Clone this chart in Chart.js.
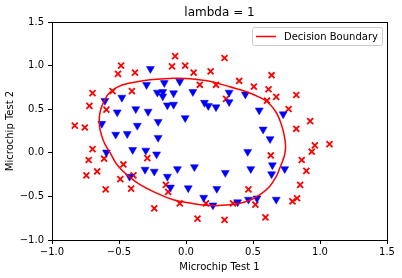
<!DOCTYPE html>
<html><head><meta charset="utf-8">
<script src="https://cdn.jsdelivr.net/npm/chart.js@4.4.0/dist/chart.umd.min.js"></script>
<style>html,body{margin:0;padding:0;background:#fff}#wrap{width:402px;height:278px;position:relative}</style>
</head><body><div id="wrap"><canvas id="c" width="402" height="278"></canvas></div>
<script>
// Accepted (y = 1) – blue triangles
const acceptedX = [0.051267,-0.092742,-0.21371,-0.375,-0.51325,-0.52477,-0.39804,-0.30588,0.016705,0.13191,0.38537,0.52938,0.63882,0.73675,0.54666,0.322,0.16647,-0.046659,-0.17339,-0.47869,-0.60541,-0.62846,-0.59389,-0.42108,-0.11578,0.20104,0.46601,0.67339,-0.13882,-0.29435,-0.26555,-0.16187,-0.17339,-0.28283,-0.36348,-0.30012,-0.23675,-0.06394,0.062788,0.22984,0.2932,0.48329,0.64459,0.46025,0.6273,0.57546,0.72523,0.22408,0.44297,0.322,0.13767,-0.0063364,-0.092742,-0.20795,-0.20795,-0.43836,-0.21947,-0.13882];
const acceptedY = [0.69956,0.68494,0.69225,0.50219,0.46564,0.2098,0.034357,-0.19225,-0.40424,-0.51389,-0.56506,-0.5212,-0.24342,-0.18494,0.48757,0.5826,0.53874,0.81652,0.69956,0.63377,0.59722,0.33406,0.005117,-0.27266,-0.39693,-0.60161,-0.53582,-0.53582,0.54605,0.77997,0.96272,0.8019,0.64839,0.47295,0.31213,0.027047,-0.21418,-0.18494,-0.16301,-0.41155,-0.2288,-0.18494,-0.14108,0.012427,0.15863,0.26827,0.44371,0.52412,0.67032,0.69225,0.57529,0.39985,0.55336,0.35599,0.17325,0.21711,-0.016813,-0.27266];
// Rejected (y = 0) – red crosses
const rejectedX = [0.18376,0.22408,0.29896,0.50634,0.61578,0.60426,0.76555,0.92684,0.82316,0.96141,0.93836,0.86348,0.89804,0.85196,0.82892,0.79435,0.59274,0.51786,0.46601,0.35081,0.28744,0.085829,0.14919,-0.13306,-0.40956,-0.39228,-0.74366,-0.69758,-0.75518,-0.69758,-0.4038,-0.38076,-0.50749,-0.54781,0.10311,0.057028,-0.10426,-0.081221,0.28744,0.39689,0.63882,0.82316,0.67339,1.0709,-0.046659,-0.23675,-0.15035,-0.49021,-0.46717,-0.28859,-0.61118,-0.66302,-0.59965,-0.72638,-0.83007,-0.72062,-0.59389,-0.48445,-0.0063364,0.63265];
const rejectedY = [0.93348,0.77997,0.61915,0.75804,0.7288,0.59722,0.50219,0.3633,0.27558,0.085526,0.012427,-0.082602,-0.20687,-0.36769,-0.5212,-0.55775,-0.7405,-0.5943,-0.41886,-0.57968,-0.76974,-0.75512,-0.57968,-0.4481,-0.41155,-0.25804,-0.25804,0.041667,0.2902,0.68494,0.70687,0.91886,0.90424,0.70687,0.77997,0.91886,0.99196,1.1089,1.087,0.82383,0.88962,0.66301,0.64108,0.10015,-0.57968,-0.63816,-0.36769,-0.3019,-0.13377,-0.060673,-0.067982,-0.21418,-0.41886,-0.082602,0.31213,0.53874,0.49488,0.99927,0.99927,-0.030612];
// Decision boundary, closed loop starting at the top
const boundaryX = [-0.095,0.029,0.177,0.326,0.451,0.550,0.612,0.674,0.711,0.733,0.743,0.738,0.722,0.700,0.674,0.624,0.550,0.451,0.326,0.177,0.029,-0.095,-0.219,-0.343,-0.442,-0.516,-0.566,-0.605,-0.630,-0.645,-0.647,-0.636,-0.616,-0.579,-0.516,-0.417,-0.269,-0.095];
const boundaryY = [0.855,0.850,0.820,0.757,0.700,0.635,0.577,0.462,0.327,0.200,0.080,-0.010,-0.090,-0.175,-0.270,-0.386,-0.482,-0.559,-0.597,-0.605,-0.577,-0.539,-0.462,-0.366,-0.251,-0.135,0.000,0.100,0.200,0.300,0.400,0.500,0.577,0.673,0.751,0.800,0.838,0.855];
const xTicks = [-1.0,-0.5,0.0,0.5,1.0,1.5];
const yTicks = [-1.0,-0.5,0.0,0.5,1.0,1.5];
const titleText = 'lambda = 1';
const xLabel = 'Microchip Test 1';
const yLabel = 'Microchip Test 2';
const legendLabel = 'Decision Boundary';

const zip = (xs, ys) => xs.map((x, i) => ({x, y: ys[i]}));
const fmt = v => (v < 0 ? '\u2212' : '') + Math.abs(v).toFixed(1);
const FONT = "'DejaVu Sans', sans-serif";

const framePlugin = {
  id: 'frame',
  afterDraw(chart) {
    const {ctx, chartArea: a} = chart;
    ctx.save();
    ctx.strokeStyle = '#000';
    ctx.lineWidth = 1;
    ctx.strokeRect(Math.round(a.left) + 0.5, Math.round(a.top) + 0.5, Math.round(a.right - a.left), Math.round(a.bottom - a.top));
    // legend
    const bx = 252.5, by = 27.5, bw = 130, bh = 18;
    ctx.fillStyle = 'rgba(255,255,255,0.85)';
    ctx.strokeStyle = '#cccccc';
    ctx.beginPath();
    if (ctx.roundRect) ctx.roundRect(bx, by, bw, bh, 2); else ctx.rect(bx, by, bw, bh);
    ctx.fill(); ctx.stroke();
    ctx.strokeStyle = '#ff0000';
    ctx.lineWidth = 1.5;
    ctx.beginPath(); ctx.moveTo(256, 36.5); ctx.lineTo(276, 36.5); ctx.stroke();
    ctx.fillStyle = '#000';
    ctx.font = '10px ' + FONT;
    ctx.textBaseline = 'middle';
    ctx.textAlign = 'left';
    ctx.fillText(legendLabel, 284, 37);
    ctx.restore();
  }
};

new Chart(document.getElementById('c'), {
  type: 'scatter',
  data: {
    datasets: [
      {label: legendLabel, data: zip(boundaryX, boundaryY), showLine: true, borderColor: '#ff0000', borderWidth: 1.5, pointRadius: 0, tension: 0.4, fill: false},
      {label: 'y = 1', data: zip(acceptedX, acceptedY), pointStyle: 'triangle', rotation: 180, pointRadius: 4.6, backgroundColor: '#0000ff', borderColor: '#0000ff', borderWidth: 0.5},
      {label: 'y = 0', data: zip(rejectedX, rejectedY), pointStyle: 'crossRot', pointRadius: 4.2, borderColor: '#ff0000', backgroundColor: '#ff0000', borderWidth: 1.8}
    ]
  },
  options: {
    responsive: false,
    animation: false,
    devicePixelRatio: 1,
    layout: {padding: {top: 0, right: 15, left: 4, bottom: 0}},
    plugins: {
      legend: {display: false},
      tooltip: {enabled: false},
      title: {display: true, text: titleText, fullSize: false, color: '#000', font: {family: FONT, size: 12, weight: 'normal'}, padding: {top: 6, bottom: 1.6}}
    },
    scales: {
      x: {
        type: 'linear', min: -1, max: 1.5,
        afterBuildTicks: s => { s.ticks = xTicks.map(v => ({value: v})); },
        afterFit: s => { s.height = 38; },
        ticks: {callback: v => fmt(v), color: '#000', font: {family: FONT, size: 10}, padding: 2, maxRotation: 0},
        grid: {drawOnChartArea: false, drawTicks: true, tickLength: 4, color: '#000'},
        border: {display: false},
        title: {display: true, text: xLabel, color: '#000', font: {family: FONT, size: 10}, padding: {top: 0, bottom: 5}}
      },
      y: {
        type: 'linear', min: -1, max: 1.5,
        afterBuildTicks: s => { s.ticks = yTicks.map(v => ({value: v})); },
        afterFit: s => { s.width = 48; },
        ticks: {callback: v => fmt(v), color: '#000', font: {family: FONT, size: 10}, padding: 4},
        grid: {drawOnChartArea: false, drawTicks: true, tickLength: 4, color: '#000'},
        border: {display: false},
        title: {display: true, text: yLabel, color: '#000', font: {family: FONT, size: 10}, padding: {top: 0, bottom: 2}}
      }
    }
  },
  plugins: [framePlugin]
});
</script></body></html>
